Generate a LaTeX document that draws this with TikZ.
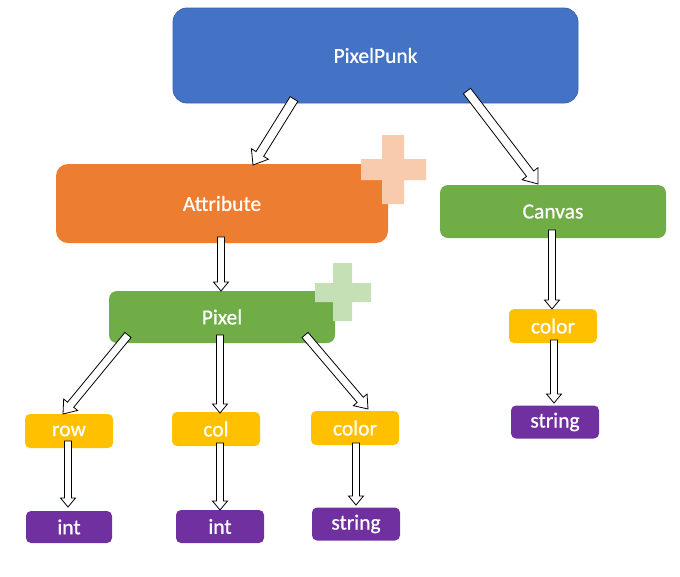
\documentclass[tikz,border=0pt]{standalone}
\usepackage{fontspec}
\setmainfont{Carlito}
\newfontfamily\lblfont{Carlito}[FakeBold=0.7]
\usetikzlibrary{calc}
\definecolor{cblue}{HTML}{4472C4}
\definecolor{cblueline}{HTML}{3A63AD}
\definecolor{corange}{HTML}{ED7D31}
\definecolor{cgreen}{HTML}{70AD47}
\definecolor{cyellow}{HTML}{FFC000}
\definecolor{cpurple}{HTML}{7030A0}
\definecolor{lorange}{HTML}{F8CBAD}
\definecolor{lgreen}{HTML}{C5E0B4}
\tikzset{
  box/.style={rectangle, text=white, inner sep=0pt, font=\lblfont\fontsize{21.5}{25}\selectfont},
  small/.style={box, minimum width=88pt, minimum height=34pt, rounded corners=5pt},
  attrbox/.style={small, fill=cyellow},
  typebox/.style={small, fill=cpurple, minimum height=33pt},
  blockarr/.style={fill=white, draw=black, line width=0.8pt, line join=miter},
}
\newcommand\barrow[5]{%
  \coordinate (ba) at (#1); \coordinate (bb) at (#2);
  \coordinate (bn) at ($(bb)!#5!(ba)$);
  \filldraw[blockarr] ($(ba)!#3!90:(bb)$) -- ($(bn)!#3!-90:(ba)$) -- ($(bn)!#4!-90:(ba)$) -- (bb) -- ($(bn)!#4!90:(ba)$) -- ($(bn)!#3!90:(ba)$) -- ($(ba)!#3!-90:(bb)$) -- cycle;}
\begin{document}
\begin{tikzpicture}[x=1pt,y=-1pt]
\useasboundingbox (0,0) rectangle (680,576);
% main nodes
\node[box, fill=cblue, draw=cblueline, line width=0.8pt, rounded corners=14pt, minimum width=405pt, minimum height=95pt] (pp) at (375.5,55.5) {PixelPunk};
\node[box, fill=corange, rounded corners=12pt, minimum width=332pt, minimum height=79pt] (attr) at (222,203.5) {Attribute};
\fill[lorange] (382,135) -- (404,135) -- (404,159) -- (426,159) -- (426,180) -- (404,180) -- (404,204) -- (382,204) -- (382,180) -- (361,180) -- (361,159) -- (382,159) -- cycle;
\node[box, fill=cgreen, rounded corners=8pt, minimum width=226pt, minimum height=52pt] (pix) at (222,317) {Pixel};
\fill[lgreen] (333,263) -- (352,263) -- (352,283) -- (371,283) -- (371,302) -- (352,302) -- (352,321) -- (333,321) -- (333,302) -- (315,302) -- (315,283) -- (333,283) -- cycle;
\node[box, fill=cgreen, rounded corners=8pt, minimum width=226pt, minimum height=53pt] (can) at (553,211.5) {Canvas};
% attribute nodes
\node[attrbox] (row) at (69,431) {row};
\node[attrbox] (col) at (216,429) {col};
\node[attrbox] (pcolor) at (355,428) {color};
\node[attrbox] (ccolor) at (553,326) {color};
% type nodes
\node[typebox, minimum width=86pt, minimum height=32pt] (int1) at (69,527) {int};
\node[typebox] (int2) at (220,526.5) {int};
\node[typebox] (pstr) at (356,524) {string};
\node[typebox] (cstr) at (555,422) {string};
% connector ends
\coordinate (a1t) at (294,99);  \coordinate (a1h) at (253,165);
\coordinate (a2t) at (467,91);  \coordinate (a2h) at (538,184);
\coordinate (a3t) at (221,237); \coordinate (a3h) at (221,291);
\coordinate (a4t) at (128,335); \coordinate (a4h) at (63,414);
\coordinate (a5t) at (220,335); \coordinate (a5h) at (220,413);
\coordinate (a6t) at (305,335); \coordinate (a6h) at (368,409);
\coordinate (a7t) at (68,441);  \coordinate (a7h) at (68,507);
\coordinate (a8t) at (220,443); \coordinate (a8h) at (220,510);
\coordinate (a9t) at (356,443); \coordinate (a9h) at (356,505);
\coordinate (a10t) at (552,230); \coordinate (a10h) at (552,309);
\coordinate (a11t) at (554,340); \coordinate (a11h) at (554,403);
% connectors
\barrow{a1t}{a1h}{4.5pt}{10pt}{13pt}
\barrow{a2t}{a2h}{4.5pt}{10pt}{13pt}
\barrow{a3t}{a3h}{3.5pt}{7.5pt}{9pt}
\barrow{a4t}{a4h}{4pt}{9pt}{12pt}
\barrow{a5t}{a5h}{3.5pt}{7.5pt}{9pt}
\barrow{a6t}{a6h}{4pt}{9pt}{12pt}
\barrow{a7t}{a7h}{3.5pt}{7.5pt}{9pt}
\barrow{a8t}{a8h}{3.5pt}{7.5pt}{9pt}
\barrow{a9t}{a9h}{3.5pt}{7.5pt}{9pt}
\barrow{a10t}{a10h}{3.5pt}{7.5pt}{9pt}
\barrow{a11t}{a11h}{3.5pt}{7.5pt}{9pt}
\end{tikzpicture}
\end{document}
